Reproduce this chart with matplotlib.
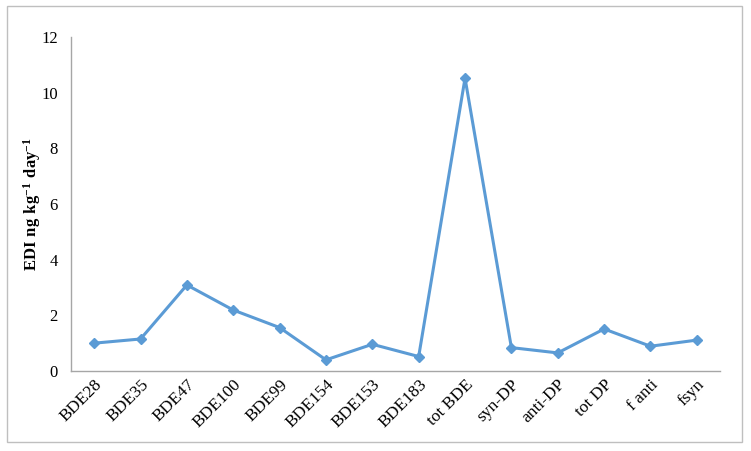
import matplotlib
matplotlib.use("Agg")
import matplotlib.pyplot as plt
from matplotlib.patches import Rectangle

categories = ["BDE28", "BDE35", "BDE47", "BDE100", "BDE99", "BDE154", "BDE153",
              "BDE183", "tot BDE", "syn-DP", "anti-DP", "tot DP", "f anti", "fsyn"]
values = [1.00, 1.15, 3.09, 2.19, 1.56, 0.40, 0.96, 0.52, 10.52, 0.84, 0.65, 1.51, 0.89, 1.11]
yticks = [0, 2, 4, 6, 8, 10, 12]

plt.rcParams['font.family'] = ['Liberation Serif', 'DejaVu Serif']
plt.rcParams['mathtext.fontset'] = 'custom'
plt.rcParams['mathtext.rm'] = 'Liberation Serif'
plt.rcParams['mathtext.bf'] = 'Liberation Serif:bold'

fig = plt.figure(figsize=(7.51, 4.51), dpi=100)
fig.patches.append(Rectangle((7/751, 1 - 442/451), (742 - 7)/751, (442 - 6)/451,
                             transform=fig.transFigure, fill=False,
                             edgecolor='#bfbfbf', linewidth=1.0))
ax = fig.add_axes([71/751, 1 - 371/451, (720 - 71)/751, (371 - 37)/451])

x = list(range(len(categories)))
ax.plot(x, values, color='#5B9BD5', linewidth=2.2, marker='D', markersize=5,
        markerfacecolor='#5B9BD5', markeredgecolor='#5B9BD5')

ax.set_xlim(-0.5, len(categories) - 0.5)
ax.set_ylim(0, 12)
ax.set_yticks(yticks)
ax.set_yticklabels([str(t) for t in yticks], fontsize=12)
ax.set_xticks(x)
ax.set_xticklabels(categories, rotation=45, ha='right', rotation_mode='anchor', fontsize=12.5)
ax.tick_params(axis='y', length=0, pad=9.5)
ax.tick_params(axis='x', length=0, pad=4)

for s in ['top', 'right']:
    ax.spines[s].set_visible(False)
for s in ['left', 'bottom']:
    ax.spines[s].set_color('#a6a6a6')
    ax.spines[s].set_linewidth(1.0)

ax.set_ylabel(r'$\mathbf{EDI\ ng\ kg^{-1}\ day^{-1}}$', fontsize=12)
ax.yaxis.set_label_coords(-0.043, 0.5)

fig.savefig('out.png', dpi=100)
